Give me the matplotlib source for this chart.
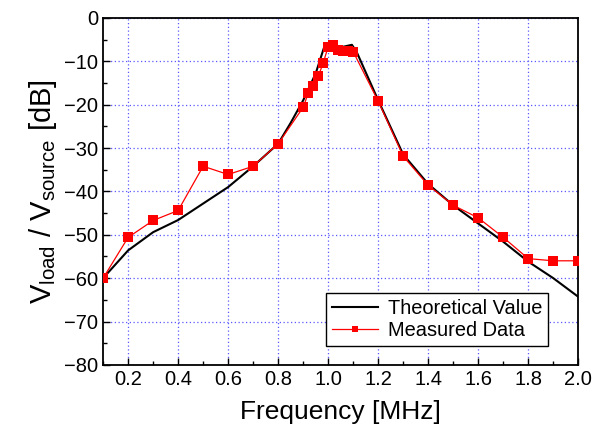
import numpy as np
import matplotlib
matplotlib.use('Agg')
import matplotlib.pyplot as plt
from matplotlib.ticker import MultipleLocator

plt.rcParams['font.family'] = ['Liberation Sans', 'DejaVu Sans']
plt.rcParams['mathtext.fontset'] = 'custom'
plt.rcParams['mathtext.rm'] = 'Liberation Sans'
plt.rcParams['mathtext.it'] = 'Liberation Sans:italic'

# theoretical curve
theo_freq = [0.1, 0.2, 0.3, 0.4, 0.5, 0.6, 0.7, 0.8, 0.85, 0.9, 0.95, 0.988,
             1.048, 1.095, 1.115, 1.2, 1.3, 1.4, 1.5, 1.6, 1.7, 1.8, 1.9, 2.0]
theo_db = [-60.0, -53.6, -49.4, -46.6, -42.8, -39.0, -34.2, -29.0, -24.2, -19.0, -12.8, -6.0,
           -6.8, -6.2, -8.0, -19.0, -31.5, -38.3, -43.2, -47.4, -51.6, -56.2, -60.0, -64.3]

# measured data
meas_freq = [0.1, 0.2, 0.3, 0.4, 0.5, 0.6, 0.7, 0.8, 0.9, 0.92, 0.94, 0.96, 0.98,
             1.0, 1.02, 1.04, 1.06, 1.08, 1.1, 1.2, 1.3, 1.4, 1.5, 1.6, 1.7,
             1.8, 1.9, 2.0]
meas_db = [-60.0, -50.6, -46.7, -44.4, -34.2, -36.1, -34.2, -29.0, -20.6, -17.4, -15.7, -13.5, -10.4,
           -6.6, -6.3, -7.3, -7.6, -7.7, -7.8, -19.2, -31.9, -38.6, -43.2, -46.1, -50.6,
           -55.5, -56.0, -56.0]

fig = plt.figure(figsize=(6.03, 4.37), dpi=100)
ax = fig.add_axes([0.171, 0.165, 0.788, 0.794])

ax.plot(theo_freq, theo_db, color='black', lw=1.5, label='Theoretical Value', zorder=3)
ax.plot(meas_freq, meas_db, color='red', lw=0.9, marker='s', markersize=6.5,
        markeredgewidth=0, label='Measured Data', zorder=4)

ax.set_xlim(0.1, 2.0)
ax.set_ylim(-80, 0)
ax.xaxis.set_minor_locator(MultipleLocator(0.1))
ax.yaxis.set_major_locator(MultipleLocator(10))
ax.yaxis.set_minor_locator(MultipleLocator(5))
xt = np.arange(0.2, 2.01, 0.2)
ax.set_xticks(xt)
ax.set_xticklabels([f'{v:.1f}' for v in xt])

ax.tick_params(which='both', direction='in', top=False, right=False, labelsize=14.5)
ax.tick_params(which='major', length=5, width=1)
ax.tick_params(which='minor', length=3, width=1)
ax.grid(True, which='major', color='#5a5aff', linestyle=(0, (1, 2)), lw=0.9)
for s in ax.spines.values():
    s.set_linewidth(1.3)

ax.set_xlabel('Frequency [MHz]', fontsize=19, labelpad=8)
ax.set_ylabel(r'$\mathrm{V}_{\mathrm{load}}$ / $\mathrm{V}_{\mathrm{source}}$ [dB]', fontsize=21, labelpad=4)

leg = ax.legend(loc='lower right', bbox_to_anchor=(0.937, 0.055), borderaxespad=0,
                fontsize=14.4, fancybox=False, framealpha=1, edgecolor='black',
                handlelength=2.3, borderpad=0.3, labelspacing=0.15, handletextpad=0.5,
                markerscale=0.6)
leg.get_frame().set_linewidth(1.0)

fig.savefig('out.png', dpi=100)
